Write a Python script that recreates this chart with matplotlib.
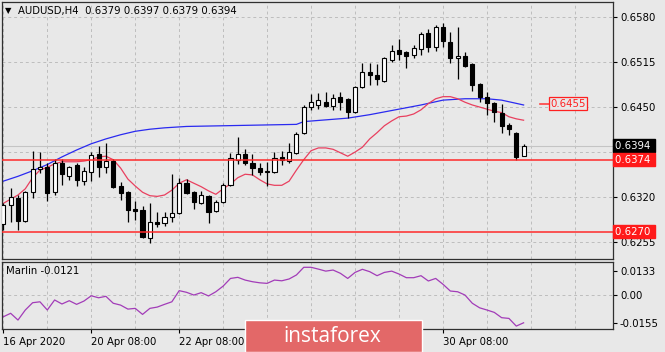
import matplotlib
matplotlib.use("Agg")
import matplotlib.pyplot as plt
from matplotlib.patches import Rectangle

# -*- Data -*-
opens = [.6281, .6309, .6319, .6286, .6327, .6361, .6363, .6327, .6369, .6350,
         .6366, .6343, .6356, .6382, .6363, .6372, .6336, .6327, .6303, .6301,
         .6261, .6284, .6283, .6291, .6297, .6340, .6327, .6311, .6322, .6300,
         .6313, .6337, .6374, .6382, .6369, .6362, .6356, .6356, .6378, .6372,
         .6383, .6413, .6450, .6453, .6458, .6452, .6465, .6462, .6443, .6479,
         .6501, .6496, .6488, .6518, .6532, .6530, .6525, .6534, .6557, .6537,
         .6566, .6544, .6521, .6524, .6512, .6483, .6465, .6456, .6442, .6424,
         .6413, .6379]
highs = [.6311, .6333, .6323, .6329, .6387, .6385, .6369, .6375, .6375, .6365,
         .6369, .6363, .6385, .6394, .6398, .6375, .6342, .6329, .6314, .6307,
         .6311, .6298, .6298, .6353, .6348, .6346, .6329, .6329, .6323, .6316,
         .6340, .6383, .6407, .6389, .6382, .6369, .6371, .6385, .6387, .6398,
         .6414, .6453, .6469, .6470, .6472, .6469, .6472, .6463, .6481, .6514,
         .6514, .6512, .6523, .6540, .6548, .6531, .6540, .6558, .6563, .6569,
         .6571, .6558, .6566, .6530, .6514, .6485, .6472, .6457, .6455, .6427,
         .6414, .6397]
lows = [.6272, .6284, .6272, .6284, .6319, .6355, .6314, .6323, .6337, .6345,
        .6336, .6337, .6343, .6349, .6355, .6333, .6316, .6284, .6287, .6261,
        .6254, .6277, .6278, .6284, .6296, .6324, .6303, .6310, .6283, .6298,
        .6311, .6336, .6368, .6366, .6352, .6352, .6336, .6355, .6366, .6369,
        .6382, .6411, .6446, .6447, .6450, .6446, .6446, .6434, .6442, .6478,
        .6482, .6482, .6486, .6515, .6518, .6506, .6521, .6525, .6530, .6531,
        .6537, .6514, .6490, .6508, .6473, .6457, .6439, .6428, .6413, .6410,
        .6374, .6379]
closes = [.6309, .6320, .6286, .6327, .6361, .6363, .6326, .6369, .6353, .6363,
          .6345, .6358, .6381, .6363, .6372, .6335, .6326, .6301, .6300, .6262,
          .6284, .6281, .6291, .6297, .6340, .6326, .6313, .6323, .6298, .6313,
          .6337, .6376, .6382, .6369, .6362, .6356, .6358, .6376, .6374, .6385,
          .6411, .6450, .6457, .6460, .6452, .6463, .6458, .6443, .6479, .6501,
          .6496, .6490, .6521, .6531, .6527, .6524, .6535, .6556, .6537, .6566,
          .6545, .6521, .6524, .6509, .6482, .6465, .6456, .6443, .6423, .6418,
          .6378, .6394]

# Slow moving average (blue), sampled along the curve.
blue_idx = [0, 2, 4, 6, 8, 10, 12, 14, 16, 18, 20, 22, 25, 30, 40, 41,
            47, 50, 53, 57, 60, 63, 66, 68, 71]
blue_val = [.6343, .6350, .6358, .6367, .6378, .6388, .6397, .6404, .6410,
            .6415, .6418, .6420, .6422, .6423, .6425, .6429, .6434, .6439,
            .6445, .6453, .6460, .6462, .6462, .6460, .6453]

# Fast moving average (red), one value per bar.
red_val = [.6311, .6317, .6323, .6332, .6348, .6359, .6363, .6368, .6371, .6371,
           .6371, .6372, .6374, .6378, .6379, .6374, .6362, .6346, .6336, .6327,
           .6322, .6321, .6323, .6330, .6340, .6345, .6340, .6335, .6329, .6324,
           .6332, .6339, .6348, .6353, .6352, .6345, .6339, .6337, .6337, .6343,
           .6359, .6374, .6387, .6391, .6391, .6389, .6384, .6379, .6385, .6392,
           .6404, .6413, .6423, .6430, .6436, .6437, .6440, .6446, .6455, .6462,
           .6465, .6465, .6462, .6457, .6453, .6450, .6447, .6444, .6442, .6436,
           .6433, .6431]

# Marlin oscillator, one value per bar.
marlin = [-.0119, -.0100, -.0137, -.0082, -.0042, -.0037, -.0082, -.0027, -.0049, -.0031,
          -.0051, -.0033, -.0004, -.0015, -.0007, -.0045, -.0055, -.0077, -.0073, -.0106,
          -.0073, -.0066, -.0051, -.0037, .0024, .0015, .0000, .0013, -.0005, .0018,
          .0049, .0091, .0097, .0082, .0073, .0067, .0064, .0082, .0078, .0088,
          .0110, .0152, .0152, .0142, .0131, .0137, .0119, .0091, .0124, .0141,
          .0128, .0106, .0124, .0131, .0115, .0095, .0095, .0106, .0077, .0091,
          .0059, .0022, .0018, .0000, -.0045, -.0070, -.0082, -.0095, -.0124, -.0128,
          -.0170, -.0152]

price_ticks = [0.6580, 0.6515, 0.6450, 0.6385, 0.6320, 0.6255]
price_labels = ["0.6580", "0.6515", "0.6450", "", "0.6320", "0.6255"]
levels = [0.6374, 0.6270]
target = 0.6455
last_price = 0.6394
marlin_ticks = [0.0133, 0.0, -0.0155]
marlin_labels = ["0.0133", "0.00", "-0.0155"]
# Labels at 24 and 28 Apr sit under the banner in the reference.
date_pos = [0, 12, 24, 60]
date_labels = ["16 Apr 2020", "20 Apr 08:00", "22 Apr 08:00", "30 Apr 08:00"]

BG = "#E8E8E8"
GRID = "#BDBDBD"
FS = 7.3

W, H = 665, 352
fig = plt.figure(figsize=(W / 100, H / 100), dpi=100, facecolor=BG)
ax = fig.add_axes([2 / W, 1 - 259 / H, 611 / W, 257 / H], facecolor=BG)
ax2 = fig.add_axes([2 / W, 1 - 329 / H, 611 / W, 67 / H], facecolor=BG)

xlo, xhi = -0.18, 83.2
n = len(closes)
xs = list(range(n))

# Grid.
for a in (ax, ax2):
    for k in range(0, 84, 6):
        a.axvline(k, color=GRID, lw=0.7, ls=(0, (3, 3)), zorder=0)
for t in price_ticks:
    ax.axhline(t, color=GRID, lw=0.7, ls=(0, (3, 3)), zorder=0)
ax2.axhline(0, color=GRID, lw=0.7, ls=(0, (3, 3)), zorder=0)

# Current bid line and support levels.
ax.axhline(last_price, color="#C4C4C4", lw=0.8, zorder=1)
for lv in levels:
    ax.axhline(lv, color="#FF2A2A", lw=1.1, zorder=4)

# Moving averages.
ax.plot(blue_idx, blue_val, color="#2A2AF0", lw=0.9, zorder=2)
ax.plot(xs, red_val, color="#E8405F", lw=0.9, zorder=2)

# Candles.
for i in xs:
    o, h, l, c = opens[i], highs[i], lows[i], closes[i]
    ax.vlines(i, l, h, color="black", lw=0.9, zorder=3)
    lo, hi = min(o, c), max(o, c)
    if hi - lo < 0.00006:
        hi = lo + 0.00006
    face = "white" if c >= o else "black"
    ax.bar(i, hi - lo, bottom=lo, width=0.56, color=face,
           edgecolor="black", lw=0.8, zorder=3)

# Target level marker.
ax.plot([73.2, 74.5], [target, target], color="#FF4040", lw=1.2, zorder=5)
ax.text(74.6, target, "0.6455", color="#FF2020", fontsize=FS, va="center",
        ha="left", zorder=5,
        bbox=dict(boxstyle="square,pad=0.12", fc=BG, ec="#FF2020", lw=0.9))

ax.set_xlim(xlo, xhi)
ax.set_ylim(0.62306, 0.66017)
ax.yaxis.tick_right()
ax.set_yticks([t for t, s in zip(price_ticks, price_labels) if s])
ax.set_yticklabels([s for s in price_labels if s], fontsize=FS)
ax.tick_params(axis="y", length=3, width=0.8, pad=2, colors="black")
ax.set_xticks([])

# Price boxes on the right axis.
box_x = 1.003
ax.text(box_x, last_price, "0.6394 ", transform=ax.get_yaxis_transform(),
        color="white", fontsize=FS, va="center", ha="left", zorder=6,
        bbox=dict(boxstyle="square,pad=0.15", fc="black", ec="black"))
for lv in levels:
    ax.text(box_x, lv, "%.4f " % lv, transform=ax.get_yaxis_transform(),
            color="white", fontsize=FS, va="center", ha="left", zorder=6,
            bbox=dict(boxstyle="square,pad=0.15", fc="#FF1A1A", ec="#FF1A1A"))

# Header.
ax.text(0.005, 0.965, "\u25bc", transform=ax.transAxes, fontsize=6,
        va="center", ha="left")
ax.text(0.027, 0.965, "AUDUSD,H4  0.6379 0.6397 0.6379 0.6394",
        transform=ax.transAxes, fontsize=FS, va="center", ha="left")

# Marlin panel.
ax2.plot(xs, marlin, color="#A23CB8", lw=0.9)
ax2.set_xlim(xlo, xhi)
ax2.set_ylim(-0.0186, 0.0181)
ax2.yaxis.tick_right()
ax2.set_yticks(marlin_ticks)
ax2.set_yticklabels(marlin_labels, fontsize=FS)
ax2.tick_params(axis="y", length=3, width=0.8, pad=2)
ax2.set_xticks(date_pos)
ax2.set_xticklabels(date_labels, fontsize=FS, ha="left")
ax2.tick_params(axis="x", length=3, width=0.8, pad=3)
ax2.text(0.006, 0.86, "Marlin -0.0121", transform=ax2.transAxes,
         fontsize=FS, va="center", ha="left")

for a in (ax, ax2):
    for sp in a.spines.values():
        sp.set_color("#303030")
        sp.set_linewidth(0.9)

# Watermark banner.
fig.patches.append(Rectangle((245 / W, 0), 177 / W, 32 / H,
                             transform=fig.transFigure, fc="#E36868",
                             ec="white", lw=1.0, zorder=10))
fig.text(332 / W, 1 - 336 / H, "instaforex", color="white", fontsize=15,
         family="Open Sans", ha="center", va="center", zorder=11)

fig.savefig("out.png", dpi=100, facecolor=BG)
